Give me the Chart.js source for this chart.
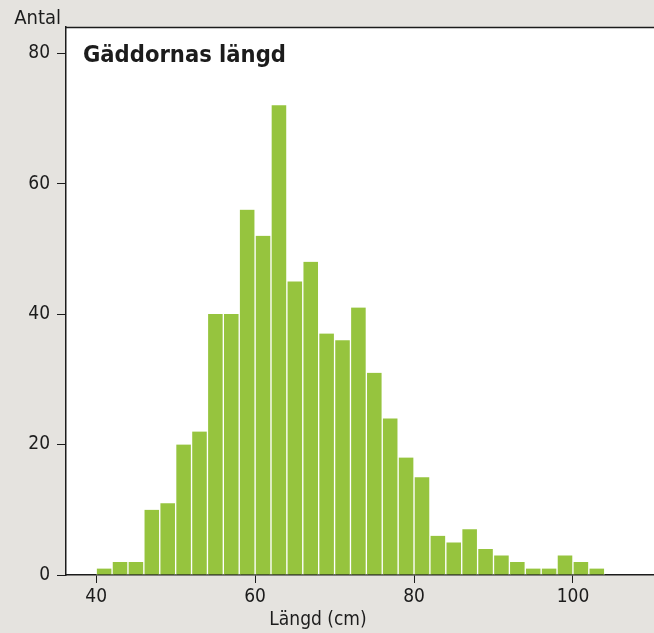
<!DOCTYPE html>
<html>
<head>
<meta charset="utf-8">
<script src="https://cdn.jsdelivr.net/npm/chart.js@4/dist/chart.umd.min.js"></script>
<style>
html,body{margin:0;padding:0;background:#e5e3df;}
#wrap{width:654px;height:633px;position:relative;}
</style>
</head>
<body>
<div id="wrap"><canvas id="c" width="654" height="633"></canvas></div>
<script>
// Bin centres (cm), 2 cm wide bins
const binCenters = [41,43,45,47,49,51,53,55,57,59,61,63,65,67,69,71,73,75,77,79,81,83,85,87,89,91,93,95,97,99,101,103];
const counts     = [1,2,2,10,11,20,22,40,40,56,52,72,45,48,37,36,41,31,24,18,15,6,5,7,4,3,2,1,1,3,2,1];
const xTicks = [40,60,80,100];
const yTicks = [0,20,40,60,80];
const titleText = 'Gäddornas längd';
const yLabel = 'Antal';
const xLabel = 'Längd (cm)';

const FONT = '"Liberation Sans Narrow", "DejaVu Sans Condensed", Roboto, sans-serif';
const INK = '#1c1c1c';
const GREEN = '#96c43e';

const decor = {
  id:'decor',
  beforeDraw(chart){
    const {ctx, chartArea:a} = chart;
    ctx.save();
    ctx.fillStyle = '#ffffff';
    ctx.fillRect(a.left, a.top, a.right - a.left, a.bottom - a.top);
    ctx.restore();
  },
  afterDraw(chart){
    const {ctx, chartArea:a} = chart;
    ctx.save();
    ctx.strokeStyle = INK; ctx.lineWidth = 1.5;
    ctx.beginPath(); ctx.moveTo(a.left, a.top + 0.5); ctx.lineTo(a.right, a.top + 0.5); ctx.stroke();
    ctx.fillStyle = INK;
    ctx.font = 'bold 23.5px ' + FONT;
    ctx.textBaseline = 'middle'; ctx.textAlign = 'left';
    ctx.fillText(titleText, 83, 56);
    ctx.font = '20px ' + FONT;
    ctx.textAlign = 'right';
    ctx.fillText(yLabel, 61, 19);
    ctx.font = '19px ' + FONT;
    ctx.textAlign = 'center';
    ctx.fillText(xLabel, 318, 620);
    ctx.restore();
  }
};

new Chart(document.getElementById('c'), {
  type:'bar',
  data:{
    datasets:[{
      data: binCenters.map((x,i)=>({x:x, y:counts[i]})),
      backgroundColor: GREEN,
      borderColor: '#ffffff',
      borderWidth: {left:1, right:1, top:0, bottom:0},
      barPercentage: 1,
      categoryPercentage: 1,
      grouped:false
    }]
  },
  plugins:[decor],
  options:{
    responsive:false,
    animation:false,
    layout:{padding:{top:27, right:0, left:0, bottom:0}},
    plugins:{legend:{display:false}, tooltip:{enabled:false}, title:{display:false}},
    scales:{
      x:{
        type:'linear', min:36.2, max:110.2, offset:false,
        afterBuildTicks(s){ s.ticks = xTicks.map(v=>({value:v})); },
        afterFit(s){ s.height = 58; },
        border:{display:true, color:INK, width:1.5},
        grid:{offset:false, drawOnChartArea:false, drawTicks:true, tickLength:8, color:INK, lineWidth:1},
        ticks:{color:INK, font:{family:FONT, size:19}, padding:3, maxRotation:0}
      },
      y:{
        min:0, max:84,
        afterBuildTicks(s){ s.ticks = yTicks.map(v=>({value:v})); },
        afterFit(s){ s.width = 66; },
        border:{display:true, color:INK, width:1.5},
        grid:{drawOnChartArea:false, drawTicks:true, tickLength:9, color:INK, lineWidth:1},
        ticks:{color:INK, font:{family:FONT, size:19}, padding:7}
      }
    }
  }
});
</script>
</body>
</html>
